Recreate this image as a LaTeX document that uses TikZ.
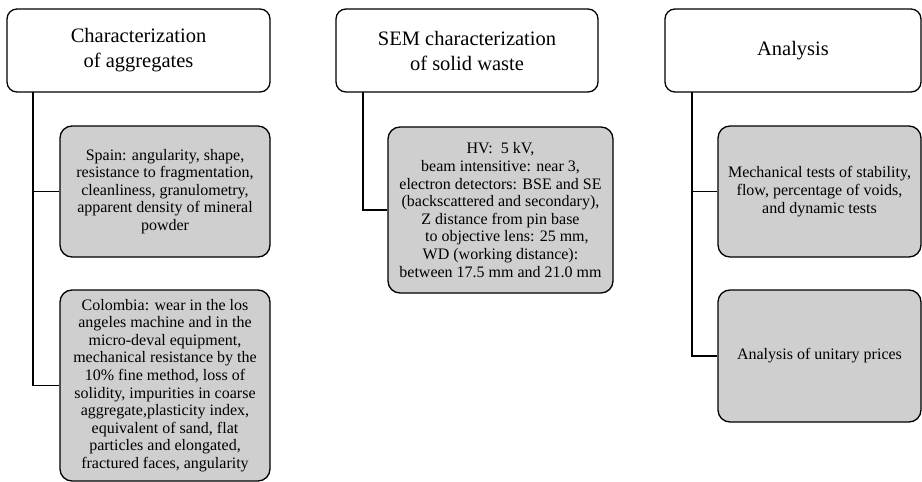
\documentclass[tikz,border=0pt]{standalone}
\usepackage{fontspec}
\setmainfont{Liberation Serif}
\usetikzlibrary{positioning,calc}

\begin{document}
\begin{tikzpicture}[
    x=1pt, y=-1pt,
    header/.style={rectangle, rounded corners=10pt, draw=black, line width=1.3pt, fill=white, align=center, font=\fontsize{20.5}{25}\selectfont},
    detail/.style={rectangle, rounded corners=12pt, draw=black, line width=1.3pt, fill=black!19, align=center, font=\fontsize{16}{17.6}\selectfont, inner sep=2pt},
    link/.style={draw=black, line width=1.3pt}
]
\useasboundingbox (0,0) rectangle (922,482);

% Headers
\node[header, minimum width=263pt, minimum height=83pt] (agg) at (138.5, 50.5) {Characterization\\of aggregates};
\node[header, minimum width=262pt, minimum height=83pt] (sem) at (467, 50.5) {SEM characterization\\of solid waste};
\node[header, minimum width=256pt, minimum height=83pt] (ana) at (793, 50.5) {Analysis};

% Aggregates column
\node[detail, minimum width=210pt, minimum height=131pt] (spain) at (165, 191.5) {Spain: angularity, shape,\\resistance to fragmentation,\\cleanliness, granulometry,\\apparent density of mineral\\powder};
\node[detail, minimum width=210pt, minimum height=191pt] (colombia) at (165, 385.5) {Colombia: wear in the los\\angeles machine and in the\\micro-deval equipment,\\mechanical resistance by the\\10\% fine method, loss of\\solidity, impurities in coarse\\aggregate,plasticity index,\\equivalent of sand, flat\\particles and elongated,\\fractured faces, angularity};

% SEM column
\node[detail, minimum width=225pt, minimum height=166pt] (params) at (500.5, 210) {HV:\ \ 5 kV,\\beam intensitive: near 3,\\electron detectors: BSE and SE\\(backscattered and secondary),\\Z distance from pin base\hspace{1.2em}\\\hspace{0.8em}to objective lens: 25 mm,\\WD (working distance):\\between 17.5 mm and 21.0 mm};

% Analysis column
\node[detail, minimum width=203pt, minimum height=131pt] (mech) at (819.5, 191.5) {Mechanical tests of stability,\\flow, percentage of voids,\\and dynamic tests};
\node[detail, minimum width=203pt, minimum height=132pt] (prices) at (819.5, 356) {Analysis of unitary prices};

% Trunks
\coordinate (aggtrunk) at (33, 92);
\coordinate (semtrunk) at (363, 92);
\coordinate (anatrunk) at (692, 92);

% Connectors
\draw[link] (aggtrunk) |- (spain.west);
\draw[link] (aggtrunk) |- (colombia.west);
\draw[link] (semtrunk) |- (params.west);
\draw[link] (anatrunk) |- (mech.west);
\draw[link] (anatrunk) |- (prices.west);

\end{tikzpicture}
\end{document}
